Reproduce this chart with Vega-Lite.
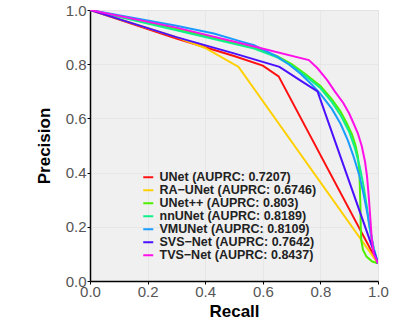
{
  "$schema": "https://vega.github.io/schema/vega-lite/v6.json",
  "autosize": {"type": "none"},
  "padding": {"left": 90, "top": 10, "right": 35, "bottom": 47},
  "width": 288,
  "height": 271,
  "background": "white",
  "config": {
    "view": {"fill": "#f0f0f0", "stroke": "#dcdcdc", "strokeWidth": 1},
    "font": "Liberation Sans"
  },
  "data": {
    "values": [
      {"s": "UNet (AUPRC: 0.7207)", "i": 0, "r": 0.0, "p": 1.0},
      {"s": "UNet (AUPRC: 0.7207)", "i": 1, "r": 0.3, "p": 0.895},
      {"s": "UNet (AUPRC: 0.7207)", "i": 2, "r": 0.5, "p": 0.83},
      {"s": "UNet (AUPRC: 0.7207)", "i": 3, "r": 0.6, "p": 0.795},
      {"s": "UNet (AUPRC: 0.7207)", "i": 4, "r": 0.655, "p": 0.755},
      {"s": "UNet (AUPRC: 0.7207)", "i": 5, "r": 1.0, "p": 0.065},

      {"s": "RA−UNet (AUPRC: 0.6746)", "i": 0, "r": 0.0, "p": 1.0},
      {"s": "RA−UNet (AUPRC: 0.6746)", "i": 1, "r": 0.3, "p": 0.9},
      {"s": "RA−UNet (AUPRC: 0.6746)", "i": 2, "r": 0.4, "p": 0.86},
      {"s": "RA−UNet (AUPRC: 0.6746)", "i": 3, "r": 0.516, "p": 0.79},
      {"s": "RA−UNet (AUPRC: 0.6746)", "i": 4, "r": 1.0, "p": 0.065},

      {"s": "UNet++ (AUPRC: 0.803)", "i": 0, "r": 0.0, "p": 1.0},
      {"s": "UNet++ (AUPRC: 0.803)", "i": 1, "r": 0.3, "p": 0.93},
      {"s": "UNet++ (AUPRC: 0.803)", "i": 2, "r": 0.57, "p": 0.861},
      {"s": "UNet++ (AUPRC: 0.803)", "i": 3, "r": 0.65, "p": 0.83},
      {"s": "UNet++ (AUPRC: 0.803)", "i": 4, "r": 0.7, "p": 0.8},
      {"s": "UNet++ (AUPRC: 0.803)", "i": 5, "r": 0.75, "p": 0.762},
      {"s": "UNet++ (AUPRC: 0.803)", "i": 6, "r": 0.8, "p": 0.72},
      {"s": "UNet++ (AUPRC: 0.803)", "i": 7, "r": 0.84, "p": 0.67},
      {"s": "UNet++ (AUPRC: 0.803)", "i": 8, "r": 0.87, "p": 0.625},
      {"s": "UNet++ (AUPRC: 0.803)", "i": 9, "r": 0.89, "p": 0.585},
      {"s": "UNet++ (AUPRC: 0.803)", "i": 10, "r": 0.91, "p": 0.54},
      {"s": "UNet++ (AUPRC: 0.803)", "i": 11, "r": 0.922, "p": 0.5},
      {"s": "UNet++ (AUPRC: 0.803)", "i": 12, "r": 0.93, "p": 0.46},
      {"s": "UNet++ (AUPRC: 0.803)", "i": 13, "r": 0.935, "p": 0.41},
      {"s": "UNet++ (AUPRC: 0.803)", "i": 14, "r": 0.937, "p": 0.35},
      {"s": "UNet++ (AUPRC: 0.803)", "i": 15, "r": 0.939, "p": 0.27},
      {"s": "UNet++ (AUPRC: 0.803)", "i": 16, "r": 0.94, "p": 0.2},
      {"s": "UNet++ (AUPRC: 0.803)", "i": 17, "r": 0.942, "p": 0.15},
      {"s": "UNet++ (AUPRC: 0.803)", "i": 18, "r": 0.948, "p": 0.115},
      {"s": "UNet++ (AUPRC: 0.803)", "i": 19, "r": 0.96, "p": 0.09},
      {"s": "UNet++ (AUPRC: 0.803)", "i": 20, "r": 0.98, "p": 0.072},
      {"s": "UNet++ (AUPRC: 0.803)", "i": 21, "r": 1.0, "p": 0.065},

      {"s": "nnUNet (AUPRC: 0.8189)", "i": 0, "r": 0.0, "p": 1.0},
      {"s": "nnUNet (AUPRC: 0.8189)", "i": 1, "r": 0.3, "p": 0.925},
      {"s": "nnUNet (AUPRC: 0.8189)", "i": 2, "r": 0.57, "p": 0.858},
      {"s": "nnUNet (AUPRC: 0.8189)", "i": 3, "r": 0.65, "p": 0.825},
      {"s": "nnUNet (AUPRC: 0.8189)", "i": 4, "r": 0.7, "p": 0.795},
      {"s": "nnUNet (AUPRC: 0.8189)", "i": 5, "r": 0.75, "p": 0.755},
      {"s": "nnUNet (AUPRC: 0.8189)", "i": 6, "r": 0.8, "p": 0.712},
      {"s": "nnUNet (AUPRC: 0.8189)", "i": 7, "r": 0.84, "p": 0.66},
      {"s": "nnUNet (AUPRC: 0.8189)", "i": 8, "r": 0.87, "p": 0.612},
      {"s": "nnUNet (AUPRC: 0.8189)", "i": 9, "r": 0.9, "p": 0.55},
      {"s": "nnUNet (AUPRC: 0.8189)", "i": 10, "r": 0.92, "p": 0.49},
      {"s": "nnUNet (AUPRC: 0.8189)", "i": 11, "r": 0.937, "p": 0.42},
      {"s": "nnUNet (AUPRC: 0.8189)", "i": 12, "r": 0.95, "p": 0.35},
      {"s": "nnUNet (AUPRC: 0.8189)", "i": 13, "r": 0.962, "p": 0.27},
      {"s": "nnUNet (AUPRC: 0.8189)", "i": 14, "r": 0.97, "p": 0.2},
      {"s": "nnUNet (AUPRC: 0.8189)", "i": 15, "r": 0.985, "p": 0.12},
      {"s": "nnUNet (AUPRC: 0.8189)", "i": 16, "r": 1.0, "p": 0.065},

      {"s": "VMUNet (AUPRC: 0.8109)", "i": 0, "r": 0.0, "p": 1.0},
      {"s": "VMUNet (AUPRC: 0.8109)", "i": 1, "r": 0.3, "p": 0.942},
      {"s": "VMUNet (AUPRC: 0.8109)", "i": 2, "r": 0.43, "p": 0.913},
      {"s": "VMUNet (AUPRC: 0.8109)", "i": 3, "r": 0.52, "p": 0.885},
      {"s": "VMUNet (AUPRC: 0.8109)", "i": 4, "r": 0.57, "p": 0.87},
      {"s": "VMUNet (AUPRC: 0.8109)", "i": 5, "r": 0.65, "p": 0.828},
      {"s": "VMUNet (AUPRC: 0.8109)", "i": 6, "r": 0.69, "p": 0.8},
      {"s": "VMUNet (AUPRC: 0.8109)", "i": 7, "r": 0.73, "p": 0.766},
      {"s": "VMUNet (AUPRC: 0.8109)", "i": 8, "r": 0.77, "p": 0.725},
      {"s": "VMUNet (AUPRC: 0.8109)", "i": 9, "r": 0.8, "p": 0.69},
      {"s": "VMUNet (AUPRC: 0.8109)", "i": 10, "r": 0.84, "p": 0.635},
      {"s": "VMUNet (AUPRC: 0.8109)", "i": 11, "r": 0.87, "p": 0.58},
      {"s": "VMUNet (AUPRC: 0.8109)", "i": 12, "r": 0.895, "p": 0.52},
      {"s": "VMUNet (AUPRC: 0.8109)", "i": 13, "r": 0.915, "p": 0.46},
      {"s": "VMUNet (AUPRC: 0.8109)", "i": 14, "r": 0.935, "p": 0.39},
      {"s": "VMUNet (AUPRC: 0.8109)", "i": 15, "r": 0.95, "p": 0.32},
      {"s": "VMUNet (AUPRC: 0.8109)", "i": 16, "r": 0.963, "p": 0.25},
      {"s": "VMUNet (AUPRC: 0.8109)", "i": 17, "r": 0.973, "p": 0.19},
      {"s": "VMUNet (AUPRC: 0.8109)", "i": 18, "r": 0.985, "p": 0.12},
      {"s": "VMUNet (AUPRC: 0.8109)", "i": 19, "r": 1.0, "p": 0.065},

      {"s": "SVS−Net (AUPRC: 0.7642)", "i": 0, "r": 0.0, "p": 1.0},
      {"s": "SVS−Net (AUPRC: 0.7642)", "i": 1, "r": 0.3, "p": 0.9},
      {"s": "SVS−Net (AUPRC: 0.7642)", "i": 2, "r": 0.5, "p": 0.84},
      {"s": "SVS−Net (AUPRC: 0.7642)", "i": 3, "r": 0.658, "p": 0.79},
      {"s": "SVS−Net (AUPRC: 0.7642)", "i": 4, "r": 0.73, "p": 0.74},
      {"s": "SVS−Net (AUPRC: 0.7642)", "i": 5, "r": 0.79, "p": 0.7},
      {"s": "SVS−Net (AUPRC: 0.7642)", "i": 6, "r": 1.0, "p": 0.065},

      {"s": "TVS−Net (AUPRC: 0.8437)", "i": 0, "r": 0.0, "p": 1.0},
      {"s": "TVS−Net (AUPRC: 0.8437)", "i": 1, "r": 0.3, "p": 0.935},
      {"s": "TVS−Net (AUPRC: 0.8437)", "i": 2, "r": 0.57, "p": 0.865},
      {"s": "TVS−Net (AUPRC: 0.8437)", "i": 3, "r": 0.76, "p": 0.815},
      {"s": "TVS−Net (AUPRC: 0.8437)", "i": 4, "r": 0.79, "p": 0.785},
      {"s": "TVS−Net (AUPRC: 0.8437)", "i": 5, "r": 0.823, "p": 0.742},
      {"s": "TVS−Net (AUPRC: 0.8437)", "i": 6, "r": 0.85, "p": 0.7},
      {"s": "TVS−Net (AUPRC: 0.8437)", "i": 7, "r": 0.88, "p": 0.656},
      {"s": "TVS−Net (AUPRC: 0.8437)", "i": 8, "r": 0.9, "p": 0.618},
      {"s": "TVS−Net (AUPRC: 0.8437)", "i": 9, "r": 0.915, "p": 0.582},
      {"s": "TVS−Net (AUPRC: 0.8437)", "i": 10, "r": 0.93, "p": 0.545},
      {"s": "TVS−Net (AUPRC: 0.8437)", "i": 11, "r": 0.944, "p": 0.496},
      {"s": "TVS−Net (AUPRC: 0.8437)", "i": 12, "r": 0.955, "p": 0.44},
      {"s": "TVS−Net (AUPRC: 0.8437)", "i": 13, "r": 0.962, "p": 0.385},
      {"s": "TVS−Net (AUPRC: 0.8437)", "i": 14, "r": 0.968, "p": 0.31},
      {"s": "TVS−Net (AUPRC: 0.8437)", "i": 15, "r": 0.973, "p": 0.237},
      {"s": "TVS−Net (AUPRC: 0.8437)", "i": 16, "r": 0.978, "p": 0.16},
      {"s": "TVS−Net (AUPRC: 0.8437)", "i": 17, "r": 0.985, "p": 0.1},
      {"s": "TVS−Net (AUPRC: 0.8437)", "i": 18, "r": 1.0, "p": 0.065}
    ]
  },
  "mark": {"type": "line", "strokeWidth": 2, "clip": true},
  "encoding": {
    "x": {
      "field": "r", "type": "quantitative",
      "scale": {"domain": [0, 1], "nice": false, "zero": false},
      "axis": {
        "title": "Recall", "values": [0, 0.2, 0.4, 0.6, 0.8, 1.0], "format": ".1f",
        "grid": true, "gridColor": "#e4e4e4", "gridWidth": 0.8,
        "domainColor": "#000000", "domainWidth": 1.5,
        "tickColor": "#000000", "tickSize": 3, "tickWidth": 1,
        "labelFlush": false,
        "labelFont": "Liberation Sans", "labelFontSize": 15, "labelColor": "#555555", "labelPadding": 0,
        "titleFont": "Liberation Sans", "titleFontSize": 17, "titleFontWeight": "bold", "titleColor": "#000000", "titlePadding": 4
      }
    },
    "y": {
      "field": "p", "type": "quantitative",
      "scale": {"domain": [0, 1], "nice": false, "zero": false},
      "axis": {
        "title": "Precision", "values": [0, 0.2, 0.4, 0.6, 0.8, 1.0], "format": ".1f",
        "grid": true, "gridColor": "#e4e4e4", "gridWidth": 0.8,
        "domainColor": "#000000", "domainWidth": 1.5,
        "tickColor": "#000000", "tickSize": 3, "tickWidth": 1,
        "labelFlush": false,
        "labelFont": "Liberation Sans", "labelFontSize": 15, "labelColor": "#555555", "labelPadding": 1,
        "titleFont": "Liberation Sans", "titleFontSize": 17, "titleFontWeight": "bold", "titleColor": "#000000", "titlePadding": 12
      }
    },
    "color": {
      "field": "s", "type": "nominal",
      "scale": {
        "domain": ["UNet (AUPRC: 0.7207)", "RA−UNet (AUPRC: 0.6746)", "UNet++ (AUPRC: 0.803)", "nnUNet (AUPRC: 0.8189)", "VMUNet (AUPRC: 0.8109)", "SVS−Net (AUPRC: 0.7642)", "TVS−Net (AUPRC: 0.8437)"],
        "range": ["#ff1010", "#ffd000", "#4cf000", "#10f08a", "#1a9cff", "#4a10ff", "#ff10e8"]
      },
      "legend": {
        "title": null, "orient": "none", "legendX": 52, "legendY": 161,
        "symbolType": "stroke", "symbolStrokeWidth": 2, "symbolSize": 100,
        "labelFont": "Liberation Sans", "labelFontSize": 12.5, "labelFontWeight": "bold", "labelColor": "#222222",
        "rowPadding": 0, "labelOffset": 5, "fillColor": null, "strokeColor": null
      }
    },
    "order": {"field": "i", "type": "quantitative"}
  }
}
